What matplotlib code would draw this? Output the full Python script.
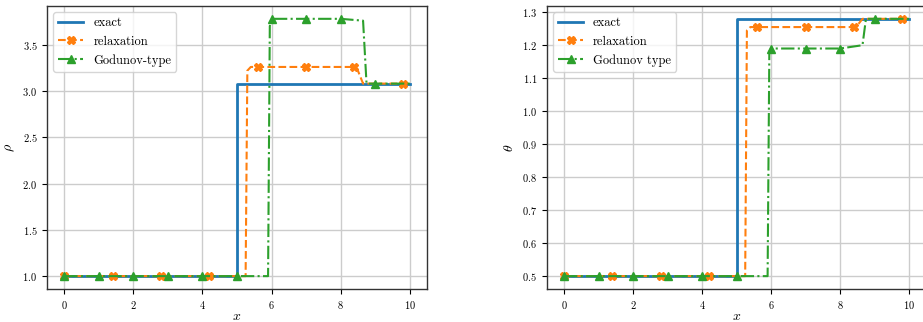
import numpy as np
import matplotlib
matplotlib.use("Agg")
import matplotlib.pyplot as plt

# ==========================================
# Data
# ==========================================
# exact solution: single jump at x = 5
exact_x = [0.0, 5.0, 5.0, 10.0]
exact_rho = [1.0, 1.0, 3.08, 3.08]
exact_theta = [0.5, 0.5, 1.28, 1.28]

# relaxation scheme
relax_x = [0.0, 1.4, 2.8, 4.2, 5.25, 5.3, 5.4, 5.6, 7.0, 8.4, 8.5, 8.65, 9.8, 10.0]
relax_rho = [1.0, 1.0, 1.0, 1.0, 1.0, 3.22, 3.26, 3.26, 3.26, 3.26, 3.22, 3.08, 3.08, 3.08]
relax_theta = [0.5, 0.5, 0.5, 0.5, 0.5, 1.245, 1.255, 1.255, 1.255, 1.255, 1.26, 1.28, 1.28, 1.28]
relax_marks = [0, 1, 2, 3, 7, 8, 9, 12]

# Godunov-type scheme
god_x = [0.0, 1.0, 2.0, 3.0, 4.0, 5.0, 5.9, 5.95, 6.0, 7.0, 8.0, 8.65, 8.75, 9.0, 10.0]
god_rho = [1.0, 1.0, 1.0, 1.0, 1.0, 1.0, 1.0, 3.7, 3.78, 3.78, 3.78, 3.76, 3.08, 3.08, 3.08]
god_theta = [0.5, 0.5, 0.5, 0.5, 0.5, 0.5, 0.5, 1.18, 1.19, 1.19, 1.19, 1.20, 1.28, 1.28, 1.28]
god_marks = [0, 1, 2, 3, 4, 5, 8, 9, 10, 13]

# ==========================================
# Style
# ==========================================
plt.rcParams['font.family'] = 'cmr10'
plt.rcParams['mathtext.fontset'] = 'cm'
plt.rcParams['axes.formatter.use_mathtext'] = True
plt.rcParams['xtick.labelsize'] = 7.5
plt.rcParams['ytick.labelsize'] = 7.5
plt.rcParams['axes.labelsize'] = 10
plt.rcParams['legend.fontsize'] = 9
plt.rcParams['axes.edgecolor'] = '#333333'
plt.rcParams['axes.linewidth'] = 1.0

fig = plt.figure(figsize=(9.23, 3.22), dpi=100)
ax1 = fig.add_axes([0.0509, 0.1025, 0.4117, 0.879])
ax2 = fig.add_axes([0.5924, 0.1025, 0.4112, 0.879])


def draw(ax, y_exact, y_relax, y_god, ylabel, god_label):
    ax.plot(exact_x, y_exact, '-', color='C0', lw=2, label='exact')
    ax.plot(relax_x, y_relax, '--', color='C1', lw=1.5, marker='X', ms=5.5,
            markevery=relax_marks, label='relaxation')
    ax.plot(god_x, y_god, '-.', color='C2', lw=1.5, marker='^', ms=5.5,
            markevery=god_marks, label=god_label)
    ax.set_xlabel('$x$', labelpad=0)
    ax.set_ylabel(ylabel)
    ax.set_xticks([0, 2, 4, 6, 8, 10])
    ax.grid(True, color='#cccccc', lw=1)
    ax.legend(loc='upper left')


draw(ax1, exact_rho, relax_rho, god_rho, r'$\rho$', 'Godunov-type')
draw(ax2, exact_theta, relax_theta, god_theta, r'$\theta$', 'Godunov type')

fig.savefig('out.png', dpi=100)
